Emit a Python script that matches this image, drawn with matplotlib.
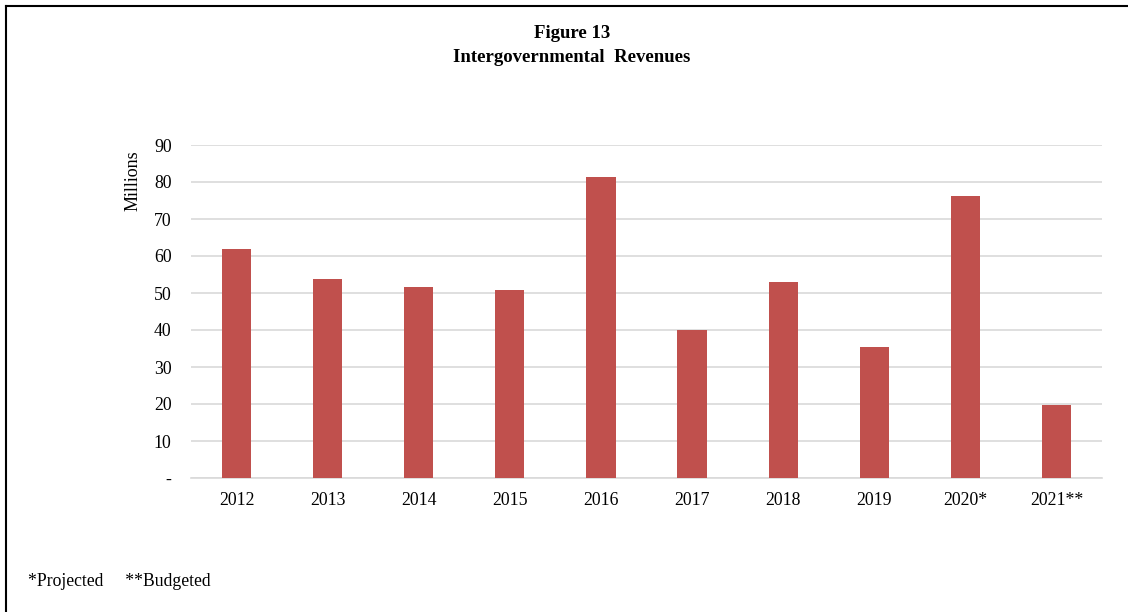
import matplotlib
matplotlib.use("Agg")
import matplotlib.pyplot as plt
from matplotlib.lines import Line2D

years = ["2012", "2013", "2014", "2015", "2016", "2017", "2018", "2019", "2020*", "2021**"]
revenues = [62.0, 53.9, 51.5, 50.7, 81.4, 39.9, 53.1, 35.5, 76.1, 19.8]
yticks = [0, 10, 20, 30, 40, 50, 60, 70, 80, 90]
ytick_labels = ["-", "10", "20", "30", "40", "50", "60", "70", "80", "90"]

plt.rcParams['font.family'] = ['Liberation Serif', 'DejaVu Serif']

W, H = 1128, 612
fig = plt.figure(figsize=(W / 100, H / 100), dpi=100)
ax = fig.add_axes([191 / W, 1 - 478 / H, (1102 - 191) / W, (478 - 145) / H])

x = list(range(len(years)))
ax.bar(x, revenues, width=0.32, color="#C0504D", zorder=3)

ax.set_xlim(-0.5, len(years) - 0.5)
ax.set_ylim(0, 90)
ax.set_yticks(yticks)
ax.set_yticklabels(ytick_labels, fontsize=12.8)
ax.set_xticks(x)
ax.set_xticklabels(years, fontsize=12.8)
ax.grid(axis="y", color="#D9D9D9", linewidth=1.2, zorder=0)
for s in ["top", "right", "left"]:
    ax.spines[s].set_visible(False)
ax.spines["bottom"].set_color("#D9D9D9")
ax.spines["bottom"].set_linewidth(1.2)
ax.tick_params(axis="both", length=0, colors="black")
ax.tick_params(axis="y", pad=14)
ax.tick_params(axis="x", pad=10)

fig.text(133 / W, 1 - 181 / H, "Millions", rotation=90, ha="center", va="center", fontsize=13)

fig.text(572 / W, 1 - 33 / H, "Figure 13", ha="center", va="center", fontsize=13.5, fontweight="bold")
fig.text(572 / W, 1 - 57 / H, "Intergovernmental  Revenues", ha="center", va="center", fontsize=13.5, fontweight="bold")

fig.text(28 / W, 1 - 582 / H, "*Projected     **Budgeted", ha="left", va="center", fontsize=12.7)

# frame lines (top and left)
fig.add_artist(Line2D([6 / W, 1.0], [1 - 6 / H, 1 - 6 / H], transform=fig.transFigure, color="black", linewidth=1.5))
fig.add_artist(Line2D([6 / W, 6 / W], [0, 1 - 6 / H], transform=fig.transFigure, color="black", linewidth=1.5))

fig.savefig("out.png", dpi=100)
